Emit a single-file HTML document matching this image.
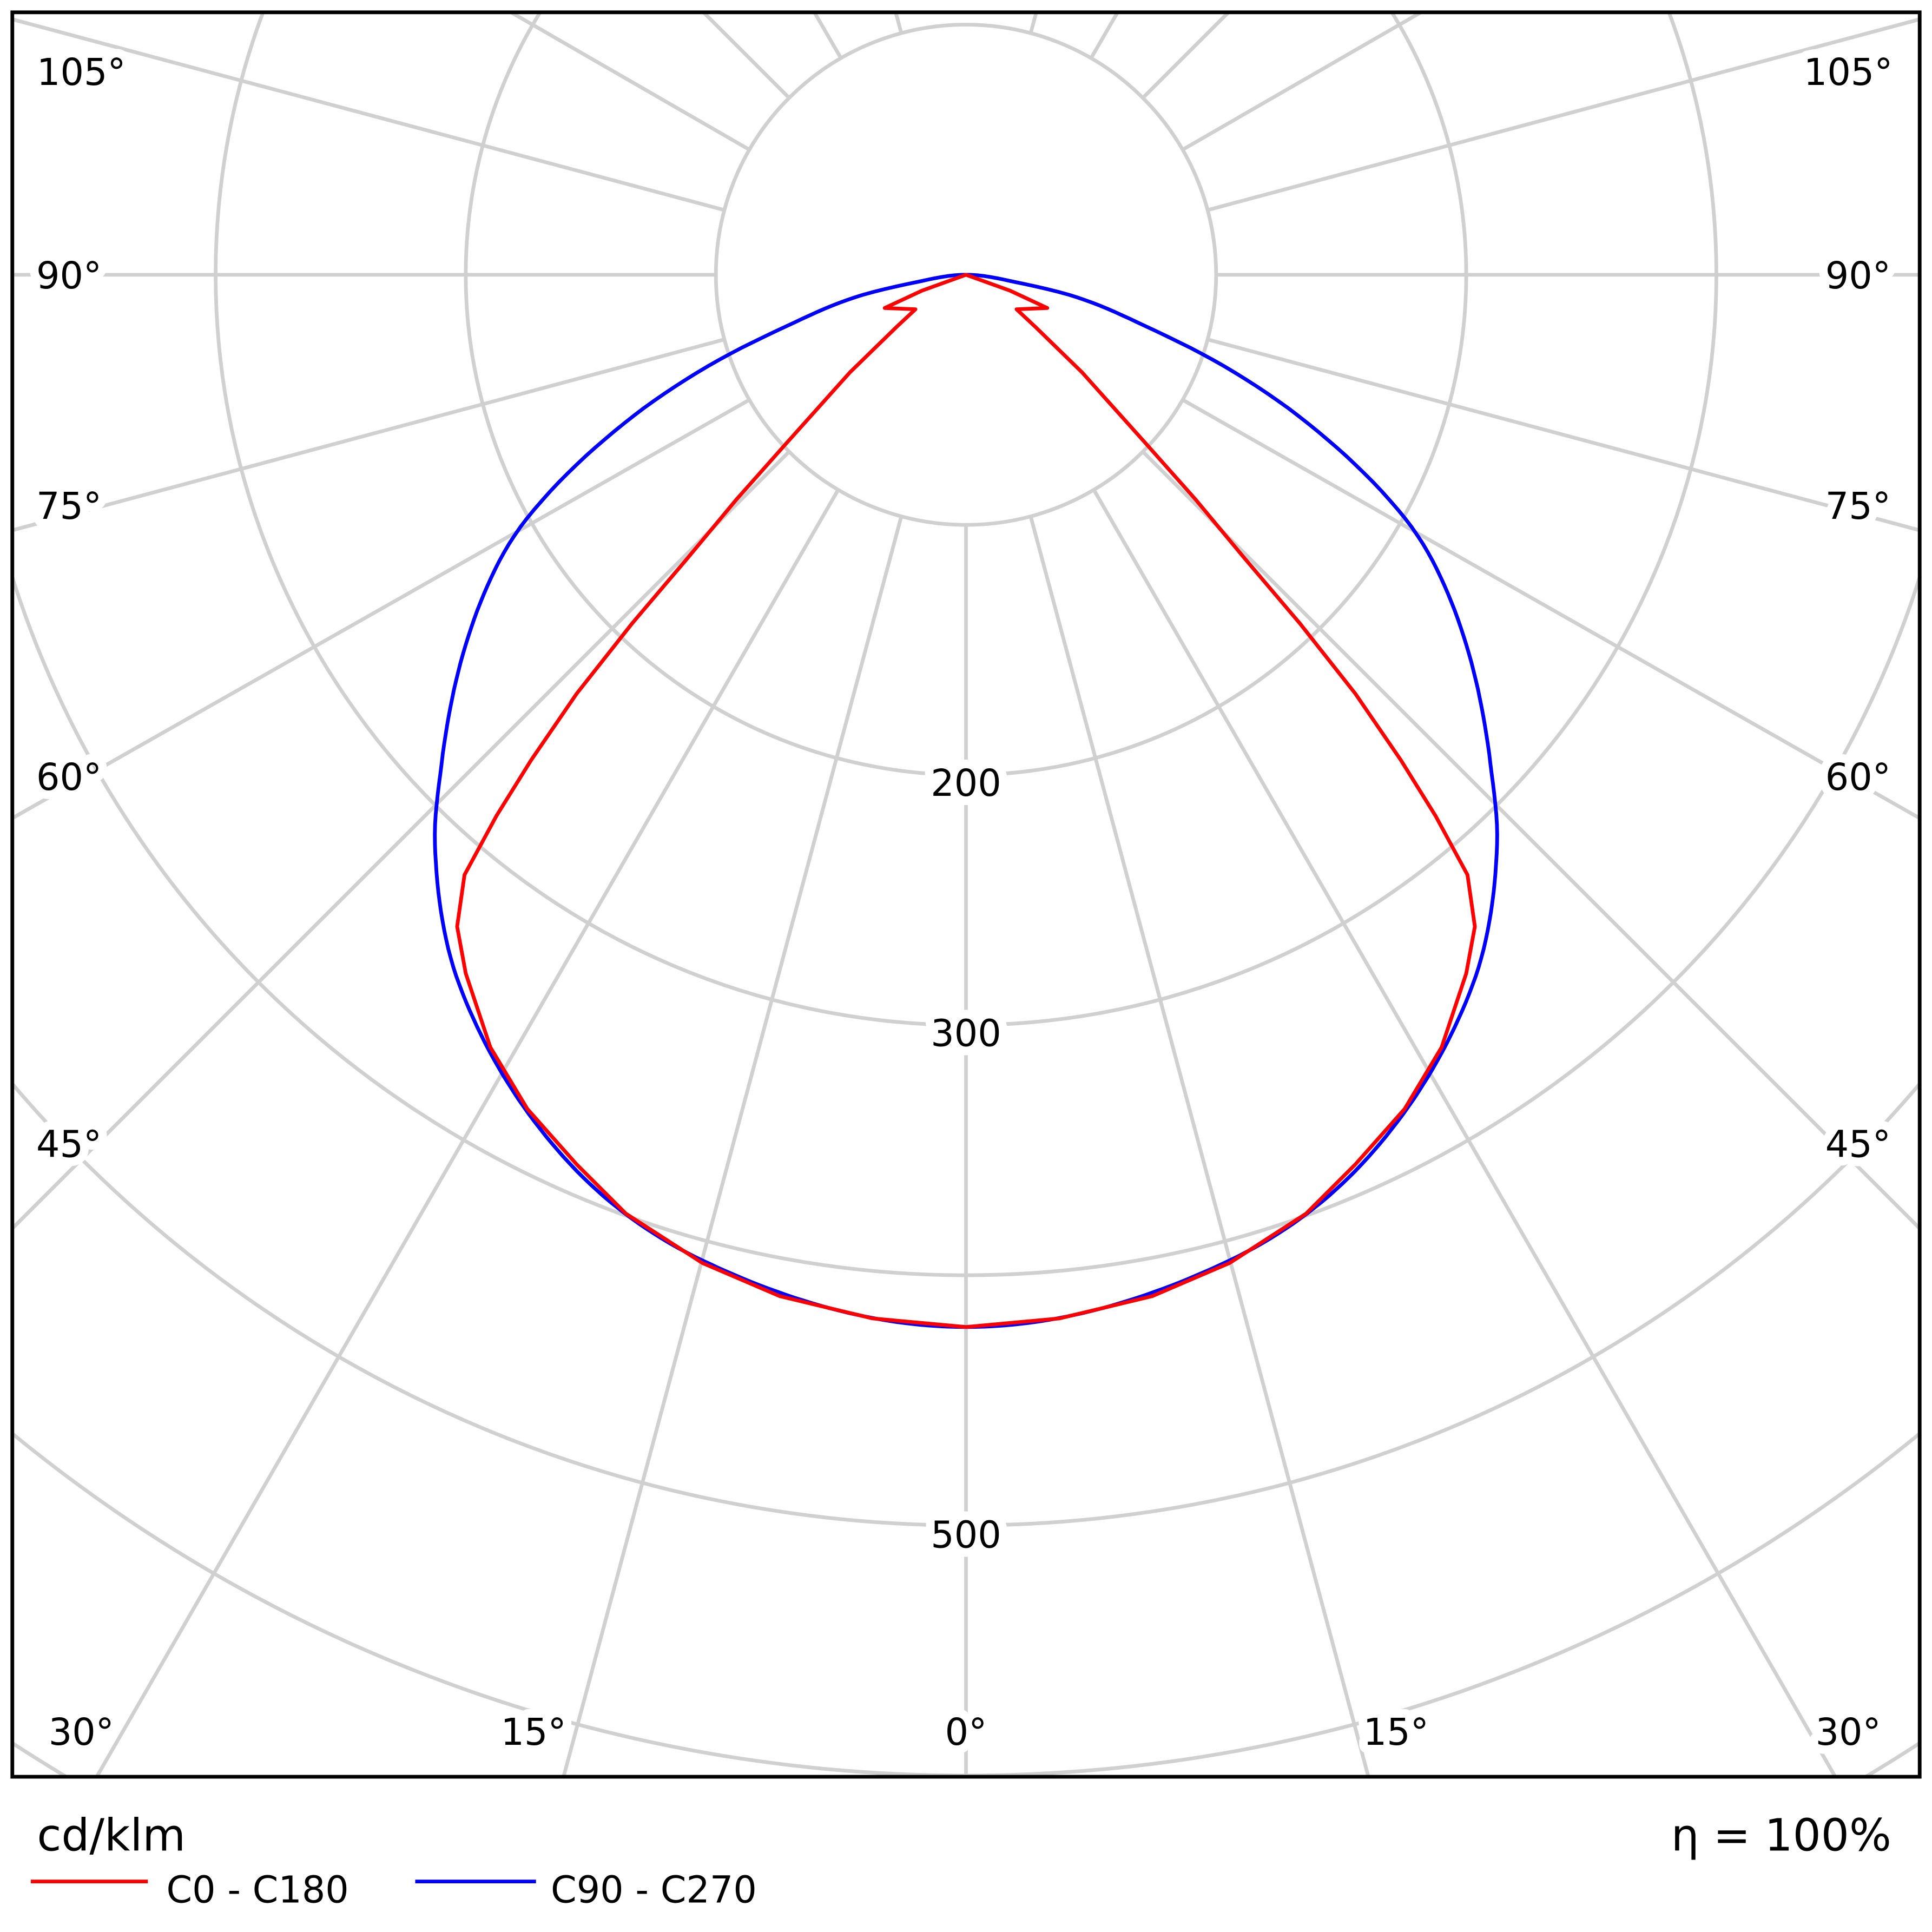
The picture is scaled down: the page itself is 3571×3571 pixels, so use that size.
<!DOCTYPE html>
<html><head><meta charset="utf-8"><style>html,body{margin:0;padding:0;background:#fff;width:3571px;height:3571px;overflow:hidden}svg{display:block;overflow:hidden}</style></head>
<body>
<svg width="3571" height="3571" viewBox="0 0 1568 1568" xmlns="http://www.w3.org/2000/svg" font-family="DejaVu Sans, Liberation Sans, sans-serif">
<defs><clipPath id="c"><rect x="10" y="10" width="1548" height="1432"/></clipPath></defs>
<rect width="1568" height="1568" fill="#fff"/>
<g clip-path="url(#c)" stroke="#d0d0d0" stroke-width="3" fill="none">
<circle cx="784" cy="223" r="203"/><circle cx="784" cy="223" r="406"/><circle cx="784" cy="223" r="609"/>
<circle cx="784" cy="223" r="812"/><circle cx="784" cy="223" r="1015"/><circle cx="784" cy="223" r="1218"/>
<circle cx="784" cy="223" r="1421"/><circle cx="784" cy="223" r="1624"/><circle cx="784" cy="223" r="1827"/>
<path d="
M784,426 L784,2600
M836.5,419.1 L1456.5,2733
M888.5,398.8 L2084,2474
M927.5,366.5 L2483,1922
M959.8,324.5 L2763,1348
M980.1,275.5 L2900,790
M987,223 L2900,223
M980.1,170.5 L2900,-344
M959.8,121.5 L2763,-918
M927.5,79.5 L2483,-1476
M885.5,47.2 L1700,-1360
M836.5,26.9 L1200,-1330
M731.5,419.1 L111.5,2733
M679.5,398.8 L-516,2474
M640.5,366.5 L-915,1922
M608.2,324.5 L-1195,1348
M587.9,275.5 L-1332,790
M581,223 L-1332,223
M587.9,170.5 L-1332,-344
M608.2,121.5 L-1195,-918
M640.5,79.5 L-915,-1476
M682.5,47.2 L-132,-1360
M731.5,26.9 L368,-1330
"/>
</g>
<g fill="none" stroke-width="3" stroke-linejoin="round">
<polyline id="blue" stroke="#0000ff" points=""/>
<polyline stroke="#ff0000" points="784,1077 860,1070 935,1052 998,1025 1060,985 1100,945 1140,900 1170,850 1190,790 1197,752 1191,710 1165,662 1137,617 1100,563 1055,506 1010,453 970,405 930,360 878,302 840,265 825,251 850,250 820,236 784,223 748,236 718,250 743,251 728,265 690,302 638,360 598,405 558,453 513,506 468,563 431,617 403,662 377,710 371,752 378,790 398,850 428,900 468,945 508,985 570,1025 633,1052 708,1070 784,1077"/>
</g>
<g font-size="30" fill="#000" text-anchor="middle" stroke="#fff" stroke-width="14" paint-order="stroke" stroke-linejoin="round">
<text x="66" y="69">105°</text><text x="1500" y="69">105°</text>
<text x="56" y="234">90°</text><text x="1508" y="234">90°</text>
<text x="56" y="421">75°</text><text x="1508" y="421">75°</text>
<text x="56" y="641">60°</text><text x="1508" y="641">60°</text>
<text x="56" y="939">45°</text><text x="1508" y="939">45°</text>
<text x="66" y="1416">30°</text><text x="1500" y="1416">30°</text>
<text x="433" y="1416">15°</text><text x="1133" y="1416">15°</text>
<text x="784" y="1416">0°</text>
<text x="784" y="646">200</text><text x="784" y="849">300</text><text x="784" y="1256">500</text>
</g>
<rect x="10" y="10" width="1548" height="1432" fill="none" stroke="#000" stroke-width="3"/>
<text x="30" y="1502" font-size="36">cd/klm</text>
<text x="1535" y="1502" font-size="36" text-anchor="end">η = 100%</text>
<line x1="25" y1="1527" x2="120" y2="1527" stroke="#ff0000" stroke-width="3"/>
<text x="135" y="1544" font-size="30">C0 - C180</text>
<line x1="337" y1="1527" x2="435" y2="1527" stroke="#0000ff" stroke-width="3"/>
<text x="447" y="1544" font-size="30">C90 - C270</text>
</svg>
<script>
(function(){
var T=[0,15,24,35.5,43,47,57.4,61,67.2,70.7,74,78.8,82,90];
var R=[854,828,790,708,632,582,458,407,289,218,152,88,36,0];
function r(t){
for(var i=0;i<T.length-1;i++){if(t<=T[i+1])break;}
var t0=T[i],t1=T[i+1],u=(t-t0)/(t1-t0);
var m0=i>0?(R[i+1]-R[i-1])/(T[i+1]-T[i-1]):0;
var m1=i+2<T.length?(R[i+2]-R[i])/(T[i+2]-T[i]):(R[i+1]-R[i])/(t1-t0);
var h=t1-t0,u2=u*u,u3=u2*u;
return (2*u3-3*u2+1)*R[i]+(u3-2*u2+u)*h*m0+(-2*u3+3*u2)*R[i+1]+(u3-u2)*h*m1;}
var right=[],left=[];
for(var t=0;t<=90.001;t+=0.5){var rr=Math.max(0,r(t)),a=t*Math.PI/180;
right.push([784+rr*Math.sin(a),223+rr*Math.cos(a)]);}
var pts=[];
for(var i=0;i<right.length;i++)pts.push(right[i][0].toFixed(1)+","+right[i][1].toFixed(1));
for(var i=right.length-2;i>=0;i--)pts.push((1568-right[i][0]).toFixed(1)+","+right[i][1].toFixed(1));
document.getElementById("blue").setAttribute("points",pts.join(" "));
})();
</script>
</body></html>
